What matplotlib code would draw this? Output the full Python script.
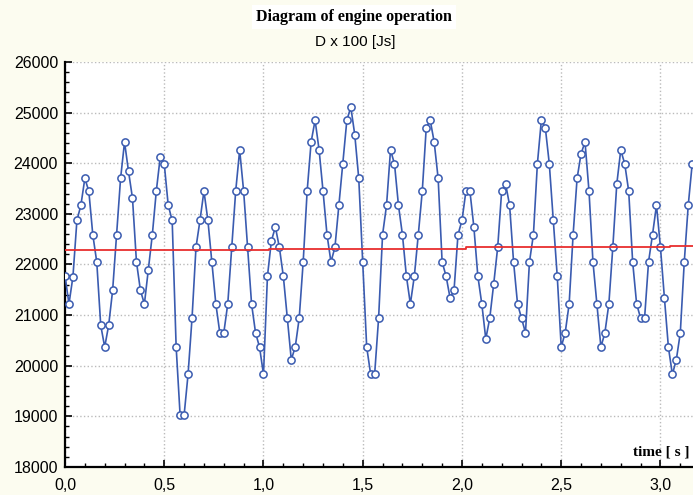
import numpy as np
import matplotlib
matplotlib.use("Agg")
import matplotlib.pyplot as plt
from matplotlib.ticker import MultipleLocator, FuncFormatter

# sampled signal, one value every 0.02 s
dt = 0.02
values = [
    21780, 21220, 21760, 22870, 23170, 23700, 23450, 22590, 22050, 20800,
    20370, 20800, 21490, 22590, 23700, 24420, 23840, 23310, 22050, 21490,
    21220, 21900, 22590, 23450, 24130, 23990, 23170, 22870, 20370, 19020,
    19020, 19830, 20940, 22340, 22870, 23450, 22870, 22050, 21220, 20650,
    20650, 21220, 22340, 23450, 24260, 23450, 22340, 21220, 20650, 20370,
    19830, 21770, 22470, 22740, 22340, 21770, 20940, 20120, 20370, 20940,
    22050, 23450, 24420, 24850, 24270, 23450, 22590, 22050, 22340, 23170,
    23990, 24850, 25110, 24560, 23700, 22050, 20370, 19830, 19830, 20940,
    22590, 23170, 24260, 23990, 23170, 22590, 21770, 21220, 21770, 22590,
    23450, 24700, 24850, 24420, 23700, 22050, 21770, 21340, 21490, 22590,
    22870, 23450, 23450, 22740, 21770, 21220, 20530, 20940, 21620, 22340,
    23450, 23590, 23170, 22050, 21220, 20940, 20650, 22050, 22590, 23990,
    24850, 24700, 23990, 22870, 21770, 20370, 20650, 21220, 22590, 23700,
    24190, 24420, 23450, 22050, 21220, 20370, 20650, 21220, 22340, 23590,
    24260, 23990, 23450, 22050, 21220, 20940, 20940, 22050, 22590, 23170,
    22340, 21340, 20370, 19830, 20120, 20650, 22050, 23170, 23990,
]
time = [i * dt for i in range(len(values))]

# mean line (slightly stepping upward)
mean_t = [0.0, 1.03, 1.03, 2.02, 2.02, 3.05, 3.05, 3.17]
mean_v = [22280, 22280, 22310, 22310, 22340, 22340, 22370, 22370]

fig = plt.figure(figsize=(6.93, 4.95), dpi=100)
fig.patch.set_facecolor("#fcfcf0")
ax = fig.add_axes([65 / 693, 28 / 495, 628 / 693, 405 / 495])
ax.set_facecolor("white")

ax.plot(time, values, color="#3a5bb0", lw=1.2, marker="o", ms=5.2,
        mfc="white", mec="#3a5bb0", mew=1.1, zorder=3)
ax.plot(mean_t, mean_v, color="#e82e2e", lw=1.3, zorder=4)

ax.set_xlim(0, 3.164)
ax.set_ylim(18000, 26000)
ax.xaxis.set_major_locator(MultipleLocator(0.5))
ax.xaxis.set_minor_locator(MultipleLocator(0.1))
ax.yaxis.set_major_locator(MultipleLocator(1000))
ax.yaxis.set_minor_locator(MultipleLocator(200))
ax.xaxis.set_major_formatter(FuncFormatter(lambda v, p: f"{v:.1f}".replace(".", ",")))
ax.yaxis.set_major_formatter(FuncFormatter(lambda v, p: f"{int(v)}"))

ax.grid(True, which="major", color="#bbbbbb", ls=":", lw=1.0)
ax.set_axisbelow(True)

for s in ["top", "right"]:
    ax.spines[s].set_visible(False)
for s in ["left", "bottom"]:
    ax.spines[s].set_linewidth(1.6)

ax.tick_params(which="major", direction="in", length=5, width=1.2,
               labelsize=11.5, pad=5)
ax.tick_params(axis="x", which="major", pad=8)
ax.tick_params(which="minor", direction="in", length=3, width=1.0)
for lab in ax.get_xticklabels() + ax.get_yticklabels():
    lab.set_family("Liberation Sans")

ax.text(0.995, 0.022, "time [ s ]", transform=ax.transAxes, ha="right",
        va="bottom", family="Liberation Serif", fontweight="bold", fontsize=11)

fig.text(0.511, 0.965, "Diagram of engine operation", ha="center", va="center",
         family="Liberation Serif", fontweight="bold", fontsize=11.5,
         bbox=dict(facecolor="white", edgecolor="none", pad=3))
fig.text(0.513, 0.915, "D x 100 [Js]", ha="center", va="center",
         family="Liberation Sans", fontsize=11)

fig.savefig("out.png", dpi=100, facecolor=fig.get_facecolor())
